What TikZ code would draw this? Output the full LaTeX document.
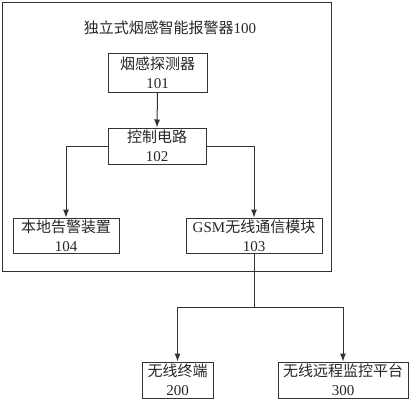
\documentclass[tikz,border=0pt]{standalone}
\usepackage{fontspec}
\setmainfont{Liberation Serif}
\newfontfamily\cjk{Noto Sans CJK SC}
\usetikzlibrary{arrows.meta}
\begin{document}
\begin{tikzpicture}[x=1pt,y=-1pt,
  box/.style={draw=black!80,line width=1pt,rectangle,align=center,inner sep=0pt,
    font=\fontsize{15}{19}\selectfont,text=black!85},
  conn/.style={draw=black!80,line width=1pt},
  arr/.style={conn,-{Latex[length=8pt,width=6pt]}}]
\useasboundingbox (0,0) rectangle (413,400);
\node[draw=black!80,line width=1pt,minimum width=329.5pt,minimum height=269pt,inner sep=0pt] (outer) at (166.75,136.5) {};
\node[font=\fontsize{15}{19}\selectfont,text=black!85] (title) at (170,28) {{\cjk 独立式烟感智能报警器}100};
\node[box,minimum width=99pt,minimum height=39pt] (b101) at (157.5,72.5) {{\cjk 烟感探测器}\\101};
\node[box,minimum width=98pt,minimum height=36pt] (b102) at (157,146) {{\cjk 控制电路}\\102};
\node[box,minimum width=106pt,minimum height=35pt] (b104) at (66,235.5) {{\cjk 本地告警装置}\\104};
\node[box,minimum width=136pt,minimum height=35pt] (b103) at (254,235.5) {GSM{\cjk 无线通信模块}\\103};
\node[box,minimum width=71pt,minimum height=36pt] (b200) at (177.5,380) {{\cjk 无线终端}\\200};
\node[box,minimum width=130pt,minimum height=36pt] (b300) at (343,380) {{\cjk 无线远程监控平台}\\300};
\coordinate (j) at (b103.south |- 0,307);
\draw[arr] (b101.south) -- (b102.north);
\draw[arr] (b102.west) -| (b104.north);
\draw[arr] (b102.east) -| (b103.north);
\draw[conn] (b103.south) -- (j);
\draw[arr] (j) -| (b200.north);
\draw[arr] (j) -| (b300.north);
\end{tikzpicture}
\end{document}
